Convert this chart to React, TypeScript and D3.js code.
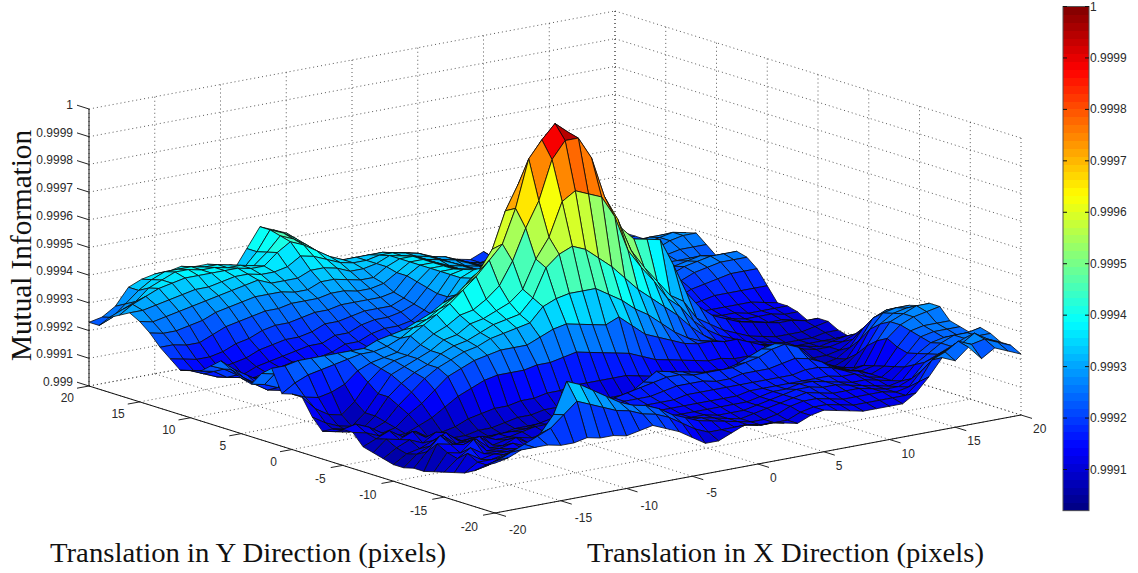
import React from "react";
import * as d3 from "d3";

// Surface heights: (value - 0.999) * 1e5. Rows are x = -20..20, columns are y = -20..20.
const zRows: number[][] = [
[18,16,13,11,10,9,8,7,7,6,6,7,8,9,13,13,12,10,14,20,20,19,27,24,19,20,22,24,21,18,17,16,19,22,26,29,31,29,27,23,23],
[19,17,14,14,16,13,14,16,12,10,9,10,12,11,12,14,11,9,11,15,18,22,27,23,18,17,18,20,19,17,15,15,18,22,25,28,31,32,29,25,24],
[21,19,16,14,13,16,13,15,17,12,10,12,11,13,10,12,10,8,9,12,17,24,28,22,16,14,15,17,16,14,13,14,17,21,25,29,32,34,31,29,27],
[21,21,17,15,14,13,17,14,13,15,12,10,13,10,9,9,9,8,8,11,18,25,28,21,15,13,13,14,14,13,12,14,17,21,26,30,33,36,35,33,33],
[21,23,19,16,14,13,12,15,13,11,14,13,10,11,9,10,11,12,12,15,20,26,28,21,14,12,12,13,13,12,12,15,18,23,27,31,34,37,37,36,35],
[20,25,22,17,14,13,12,11,14,12,10,11,8,8,11,14,16,18,18,21,24,27,28,20,14,12,12,12,12,13,14,16,20,25,29,32,35,38,39,38,36],
[20,29,28,20,15,12,13,11,10,12,10,8,8,9,13,17,20,22,24,25,26,28,28,21,15,13,12,11,12,14,15,18,21,26,30,33,35,38,39,38,36],
[21,33,39,26,16,12,11,13,11,10,9,8,8,10,16,21,24,25,26,27,27,28,28,22,17,14,12,12,13,15,16,19,23,27,31,34,36,38,38,38,37],
[20,31,37,25,16,13,11,10,11,10,10,8,9,12,19,25,27,27,28,28,28,29,30,24,18,14,13,13,15,15,17,20,24,28,32,35,37,38,38,37,36],
[20,29,34,24,16,13,12,11,10,11,10,8,9,13,21,27,29,30,30,31,33,31,31,25,19,15,13,12,14,15,18,20,24,28,32,36,37,38,37,37,36],
[19,27,31,22,15,13,11,11,11,12,10,9,10,14,23,29,31,32,33,34,36,34,32,27,21,16,13,13,15,16,18,21,25,29,32,34,36,37,37,36,34],
[20,26,28,21,15,13,12,11,12,12,11,9,11,14,24,30,32,33,34,36,39,36,34,28,22,17,14,14,16,18,20,23,26,29,31,34,36,37,36,34,32],
[21,24,26,20,15,13,13,12,13,13,12,9,11,15,24,31,34,35,37,39,42,39,36,30,24,19,16,15,17,18,20,23,26,29,31,34,37,41,40,39,39],
[19,23,25,19,15,14,13,13,14,14,12,10,12,15,24,31,35,37,38,40,46,42,39,33,26,21,18,17,18,20,22,24,27,30,33,36,40,44,45,46,46],
[17,21,23,18,15,14,14,14,15,15,12,10,12,16,25,31,36,38,40,43,50,46,41,35,28,23,20,18,19,21,23,25,27,30,33,36,39,42,43,44,44],
[14,18,20,17,15,14,14,15,16,16,13,10,12,16,25,33,37,39,42,47,55,50,44,37,30,24,21,19,19,21,23,25,27,29,32,35,37,39,40,41,42],
[11,15,18,16,14,14,15,16,17,17,13,10,12,17,26,35,42,44,46,55,60,57,48,40,33,27,23,21,21,22,24,25,27,29,31,33,35,36,36,36,36],
[11,13,16,15,14,14,15,16,17,18,14,11,12,17,27,36,44,54,56,66,72,70,54,44,37,31,27,25,24,25,26,27,28,30,31,33,34,34,33,32,30],
[13,13,15,15,14,14,15,16,17,19,16,12,12,17,26,35,45,58,63,75,89,79,66,50,43,38,35,32,30,30,31,32,33,33,34,34,34,34,32,30,28],
[15,13,14,14,14,14,15,16,18,20,19,13,12,17,25,34,45,60,75,89,95,88,72,56,48,43,40,37,36,36,36,36,36,36,36,36,35,34,32,30,28],
[14,13,13,13,13,14,15,17,19,21,22,17,13,17,24,33,45,58,78,95,100,90,72,58,50,45,42,40,38,37,36,36,36,36,36,35,35,34,32,30,28],
[14,12,12,12,13,14,15,17,19,21,21,16,12,16,23,35,42,54,76,95,96,85,70,57,48,42,39,37,35,34,34,34,34,34,34,34,34,33,31,29,27],
[13,12,12,13,13,14,15,17,19,20,20,15,12,15,21,31,39,50,74,87,85,75,62,52,44,39,35,33,32,31,31,32,32,32,33,33,33,32,30,28,27],
[12,12,13,14,14,14,15,17,18,20,19,14,12,14,19,27,35,45,66,72,72,65,55,46,39,35,32,30,29,29,29,30,31,31,31,31,31,30,29,27,26],
[14,14,15,15,15,15,16,17,18,20,18,14,11,14,18,25,32,40,53,63,64,57,50,42,36,32,30,28,27,27,28,29,29,29,29,30,30,28,27,26,26],
[15,15,16,16,16,16,16,17,19,20,18,13,11,13,17,23,28,36,46,51,58,52,46,39,34,30,27,26,25,25,26,27,27,27,28,28,28,27,26,25,24],
[14,15,16,17,17,16,16,17,19,21,19,13,11,13,16,21,24,32,40,44,53,48,43,37,32,28,26,24,24,24,24,25,26,26,26,26,26,25,24,23,23],
[13,14,15,16,17,17,16,17,19,22,21,14,11,13,15,20,21,28,33,38,52,46,40,35,30,27,24,23,22,22,23,23,24,24,24,24,24,23,23,22,22],
[12,13,14,15,16,17,16,17,20,24,23,15,12,12,15,20,19,23,29,32,51,44,38,33,28,25,22,21,20,20,21,21,22,22,22,22,22,22,22,21,21],
[12,13,14,15,16,16,16,18,21,25,24,15,12,11,14,19,18,19,23,29,41,36,32,28,25,22,20,19,18,18,19,20,20,20,20,20,20,21,21,20,20],
[12,13,14,15,15,15,16,18,20,23,21,14,12,12,14,19,17,16,19,22,30,27,25,23,21,19,18,17,17,17,18,18,19,19,19,19,19,20,20,21,22],
[12,13,14,14,14,14,15,17,18,18,18,13,12,12,13,17,16,14,16,19,24,22,21,20,19,18,17,16,16,16,16,17,18,18,18,18,19,19,19,18,18],
[15,13,13,13,13,14,15,15,15,15,15,13,11,12,12,15,14,13,14,16,20,19,18,17,17,16,16,15,16,16,16,17,18,18,18,18,19,19,19,18,18],
[20,17,14,13,12,13,13,14,13,13,13,11,10,10,11,13,13,12,12,14,18,17,16,16,16,16,17,17,17,18,18,18,19,19,19,19,19,19,19,18,18],
[26,24,19,15,13,12,12,12,12,11,11,9,8,9,10,12,12,11,11,12,16,15,15,15,15,16,18,20,20,20,20,20,20,21,21,20,20,19,19,19,19],
[24,26,23,20,18,16,15,14,13,12,10,9,8,8,9,11,11,10,10,11,15,14,14,14,15,17,20,22,23,22,22,23,23,23,23,22,21,20,20,19,19],
[28,29,25,22,21,20,19,20,22,20,17,13,10,9,9,10,10,9,9,10,14,13,13,14,15,18,21,24,25,24,24,24,25,25,25,24,22,21,20,20,20],
[23,27,26,24,24,23,24,25,26,26,24,21,16,12,10,10,9,9,9,10,13,12,13,13,15,18,22,25,26,25,24,25,26,27,26,25,23,21,21,20,20],
[26,28,29,26,26,24,25,26,28,28,27,26,23,18,13,11,10,9,9,10,13,12,13,13,15,18,23,26,27,26,24,26,28,28,27,25,23,22,21,21,21],
[24,26,26,26,26,24,25,26,29,30,28,27,25,21,17,13,11,9,10,11,12,11,12,13,14,18,23,26,27,25,23,26,29,29,27,24,23,21,21,21,21],
[22,24,24,26,27,24,25,26,30,30,28,27,25,22,17,14,11,9,10,12,12,10,12,13,13,18,23,26,27,25,23,26,29,28,26,23,22,21,21,21,22],
];

const xTicks = [-20, -15, -10, -5, 0, 5, 10, 15, 20];
const yTicks = [-20, -15, -10, -5, 0, 5, 10, 15, 20];
const zTicks = [0.999, 0.9991, 0.9992, 0.9993, 0.9994, 0.9995, 0.9996, 0.9997, 0.9998, 0.9999, 1];
const colorTicks = [0.9991, 0.9992, 0.9993, 0.9994, 0.9995, 0.9996, 0.9997, 0.9998, 0.9999, 1];
const xLabel = "Translation in X Direction (pixels)";
const yLabel = "Translation in Y Direction (pixels)";
const zLabel = "Mutual Information";
const colorMin = 0.99902;
const colorMax = 1;

// Orthographic projection, scales read from the four floor corners.
const pxX = d3.scaleLinear([-20, 20], [-263, 263]);
const pxY = d3.scaleLinear([-20, 20], [203, -203]);
const pyX = d3.scaleLinear([-20, 20], [49, -49]);
const pyY = d3.scaleLinear([-20, 20], [63.5, -63.5]);
const pyZ = d3.scaleLinear([0.999, 1], [0, -277]);
const project = (x: number, y: number, z: number): [number, number] => [
  555 + pxX(x) + pxY(y),
  400.5 + pyX(x) + pyY(y) + pyZ(z),
];

const jetLevel = (i: number, n: number): string => {
  const t = (i + 0.5) / n;
  const f = (c: number) => Math.round(255 * Math.max(0, Math.min(1, 1.5 - Math.abs(4 * t - c))));
  return `rgb(${f(3)},${f(2)},${f(1)})`;
};
const levels = d3.range(64).map((i) => jetLevel(i, 64));
const colorScale = d3.scaleQuantize<string>().domain([colorMin, colorMax]).range(levels);
const barY = d3.scaleLinear([0.9991, 1], [469.5, 6.5]);
const barTop = barY(colorMax);
const barBottom = barY(colorMin);
const barLevel = d3.scaleBand<number>().domain(d3.range(64).reverse()).range([barTop, barBottom]);

const zValue = d3.scaleLinear([0, 100], [0.999, 1]);
const gridX = d3.range(-20, 21);
const gridY = d3.range(-20, 21);

type Cell = { key: string; d: string; fill: string };
const pathOf = d3.line();
const cells: Cell[] = [];
for (let i = gridX.length - 2; i >= 0; i--) {
  for (let j = gridY.length - 2; j >= 0; j--) {
    const corners: [number, number][] = [
      [i, j],
      [i + 1, j],
      [i + 1, j + 1],
      [i, j + 1],
    ];
    const pts = corners.map(([a, b]) => project(gridX[a], gridY[b], zValue(zRows[a][b])));
    cells.push({
      key: `${i}-${j}`,
      d: pathOf(pts) + "Z",
      fill: colorScale(zValue(zRows[i][j])),
    });
  }
}

const sans = "'Liberation Sans', Arial, sans-serif";
const serif = "'Liberation Serif', serif";
const tickInk = "#2a2a2a";
const dotted = { stroke: "#222", strokeWidth: 1, strokeDasharray: "1 3", fill: "none", opacity: 0.75 };

const seg = (a: [number, number], b: [number, number]) => ({ x1: a[0], y1: a[1], x2: b[0], y2: b[1] });
const zMin = 0.999;
const zMax = 1;

export default function App() {
  return (
    <svg
      width={1138}
      height={573}
      viewBox="0 0 1138 573"
      style={{ position: "absolute", left: 0, top: 0, background: "#fff" }}
    >
      {/* Walls and floor grid */}
      {zTicks.map((z) => (
        <g key={`gz${z}`}>
          <line {...seg(project(-20, 20, z), project(20, 20, z))} {...dotted} />
          <line {...seg(project(20, 20, z), project(20, -20, z))} {...dotted} />
        </g>
      ))}
      {xTicks.map((x) => (
        <g key={`gx${x}`}>
          <line {...seg(project(x, 20, zMin), project(x, 20, zMax))} {...dotted} />
          <line {...seg(project(x, -20, zMin), project(x, 20, zMin))} {...dotted} />
        </g>
      ))}
      {yTicks.map((y) => (
        <g key={`gy${y}`}>
          <line {...seg(project(20, y, zMin), project(20, y, zMax))} {...dotted} />
          <line {...seg(project(-20, y, zMin), project(20, y, zMin))} {...dotted} />
        </g>
      ))}

      {/* Surface */}
      <g stroke="#0a0a0a" strokeWidth={0.8} strokeLinejoin="round">
        {cells.map((c) => (
          <path key={c.key} d={c.d} fill={c.fill} />
        ))}
      </g>

      {/* Axes */}
      <g stroke="#111" strokeWidth={1} fill="none">
        <line {...seg(project(-20, 20, zMin), project(-20, 20, zMax))} />
        <line {...seg(project(-20, 20, zMin), project(-20, -20, zMin))} />
        <line {...seg(project(-20, -20, zMin), project(20, -20, zMin))} />
      </g>
      {zTicks.map((z) => {
        const [px, py] = project(-20, 20, z);
        return (
          <g key={`tz${z}`}>
            <line x1={px} y1={py} x2={px - 12} y2={py - 3.8} stroke="#222" />
            <text x={px - 16} y={py} textAnchor="end" fontFamily={sans} fontSize={12} fill={tickInk}>
              {d3.format(".4~f")(z)}
            </text>
          </g>
        );
      })}
      {yTicks.map((y) => {
        const [px, py] = project(-20, y, zMin);
        return (
          <g key={`ty${y}`}>
            <line x1={px} y1={py} x2={px - 12} y2={py + 2.2} stroke="#222" />
            <text x={px - (y < 0 ? 17 : 15)} y={py + (y < 0 ? 18 : 16)} textAnchor="end" fontFamily={sans} fontSize={12} fill={tickInk}>
              {y}
            </text>
          </g>
        );
      })}
      {xTicks.map((x) => {
        const [px, py] = project(x, -20, zMin);
        return (
          <g key={`tx${x}`}>
            <line x1={px} y1={py} x2={px + 11} y2={py + 3.4} stroke="#222" />
            <text x={px + (x < 0 ? 14 : 12)} y={py + (x < 0 ? 21 : 18)} textAnchor="start" fontFamily={sans} fontSize={12} fill={tickInk}>
              {x}
            </text>
          </g>
        );
      })}

      {/* Axis titles */}
      <text x={0} y={0} transform="translate(31,361) rotate(-90)" fontFamily={serif} fontSize={30} fill="#111" textLength={231} lengthAdjust="spacingAndGlyphs">
        {zLabel}
      </text>
      <text x={50} y={562} fontFamily={serif} fontSize={27} fill="#111" textLength={396} lengthAdjust="spacingAndGlyphs">
        {yLabel}
      </text>
      <text x={587} y={562} fontFamily={serif} fontSize={27} fill="#111" textLength={397} lengthAdjust="spacingAndGlyphs">
        {xLabel}
      </text>

      {/* Colorbar */}
      <g shapeRendering="crispEdges">
        {levels.map((c, i) => (
          <rect key={i} x={1063} y={barLevel(i)!} width={26} height={barLevel.bandwidth() + 0.5} fill={c} />
        ))}
      </g>
      <rect x={1063} y={barTop} width={26} height={barBottom - barTop} fill="none" stroke="#555" strokeWidth={1} />
      {colorTicks.map((t) => {
        const py = barY(t);
        return (
          <g key={`ct${t}`}>
            <line x1={1063} x2={1067} y1={py} y2={py} stroke="#111" />
            <line x1={1085} x2={1089} y1={py} y2={py} stroke="#111" />
            <text x={1090} y={py + 4} fontFamily={sans} fontSize={12} fill={tickInk}>
              {d3.format(".4~f")(t)}
            </text>
          </g>
        );
      })}
    </svg>
  );
}
